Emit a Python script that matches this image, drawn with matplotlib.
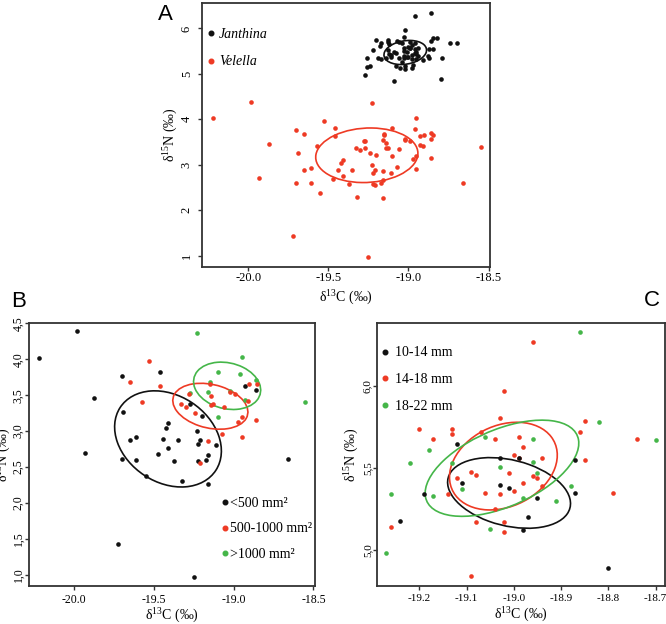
import numpy as np
import matplotlib
matplotlib.use("Agg")
import matplotlib.pyplot as plt
from matplotlib.patches import Ellipse
from matplotlib.lines import Line2D

plt.rcParams["font.family"] = ["Liberation Serif", "DejaVu Serif"]
plt.rcParams["mathtext.fontset"] = "custom"
plt.rcParams["mathtext.rm"] = "Liberation Serif"
plt.rcParams["mathtext.it"] = "Liberation Serif:italic"
plt.rcParams["axes.unicode_minus"] = False

BLACK = "#111111"
RED = "#EE3A24"
GREEN = "#45B649"

# Velella, split by size class (panel B); all together they are the red cloud in A
vel_small_x = [-20.22, -19.98, -19.87, -19.93, -19.70, -19.69, -19.70, -19.65, -19.61, -19.61,
               -19.55, -19.46, -19.41, -19.42, -19.44, -19.47, -19.41, -19.37, -19.35, -19.32,
               -19.27, -19.20, -19.23, -19.21, -19.22, -19.22, -19.16, -19.17, -19.16, -19.11,
               -18.93, -18.86, -18.66, -19.72, -19.25]
vel_small_y = [4.02, 4.39, 3.46, 2.70, 3.77, 3.26, 2.61, 2.88, 2.92, 2.59,
               2.37, 3.82, 3.11, 3.04, 2.89, 2.68, 2.76, 2.58, 2.88, 2.30,
               3.37, 3.21, 3.00, 2.88, 2.82, 2.58, 2.67, 2.60, 2.26, 2.81,
               3.63, 3.57, 2.61, 1.43, 0.97]
vel_mid_x = [-19.53, -19.65, -19.57, -19.46, -19.33, -19.30, -19.28, -19.24, -19.16, -19.21,
             -19.15, -19.14, -19.13, -19.14, -19.06, -19.07, -19.02, -18.99, -18.97, -18.95,
             -18.95, -18.90, -18.85, -18.91, -18.86]
vel_mid_y = [3.97, 3.68, 3.41, 3.63, 3.37, 3.33, 3.52, 3.25, 2.86, 2.56,
             3.66, 3.49, 3.38, 3.36, 3.34, 2.96, 3.54, 3.52, 3.13, 3.20,
             2.91, 3.66, 3.65, 3.42, 3.16]
vel_large_x = [-19.23, -18.95, -19.10, -18.96, -18.86, -19.16, -19.27, -19.10, -18.93, -18.55,
               -19.15, -19.02]
vel_large_y = [4.37, 4.03, 3.82, 3.79, 3.71, 3.55, 3.53, 3.19, 3.43, 3.40,
               3.68, 3.56]

# Janthina, split by size class (panel C); all together they are the black cloud in A
jan_small_x = [-19.12, -19.11, -19.19, -19.24, -19.03, -18.99, -19.03, -19.01, -18.87, -18.87,
               -18.95, -18.97, -18.98, -18.80]
jan_small_y = [5.65, 5.41, 5.34, 5.18, 5.56, 5.56, 5.40, 5.38, 5.55, 5.35,
               5.32, 5.20, 5.12, 4.89]
jan_mid_x = [-18.96, -19.02, -19.03, -19.20, -19.13, -19.13, -19.17, -19.07, -19.04, -18.99,
             -18.98, -18.86, -18.85, -18.85, -18.74, -19.00, -18.99, -18.94, -19.01, -19.09,
             -19.08, -19.12, -18.98, -18.96, -18.95, -18.94, -19.00, -19.06, -19.03, -19.14,
             -19.04, -19.08, -19.02, -19.02, -19.26, -19.09, -18.79]
jan_mid_y = [6.27, 5.97, 5.81, 5.74, 5.74, 5.71, 5.68, 5.72, 5.68, 5.69,
             5.63, 5.72, 5.79, 5.55, 5.68, 5.58, 5.56, 5.56, 5.47, 5.48,
             5.46, 5.44, 5.41, 5.45, 5.44, 5.39, 5.36, 5.35, 5.34, 5.34,
             5.25, 5.17, 5.17, 5.11, 5.14, 4.84, 5.35]
jan_large_x = [-18.86, -18.82, -18.70, -19.06, -19.18, -19.22, -19.13, -18.96, -18.96, -19.03,
               -18.95, -19.11, -18.88, -19.17, -19.26, -18.98, -18.91, -19.05, -19.27]
jan_large_y = [6.33, 5.78, 5.67, 5.69, 5.61, 5.53, 5.53, 5.68, 5.54, 5.51,
               5.47, 5.37, 5.39, 5.33, 5.34, 5.32, 5.30, 5.13, 4.98]

# standard ellipses: centre x, centre y, sd x, sd y, correlation
ell_a = {"Janthina": (-19.02, 5.47, 0.133, 0.265, 0.20),
         "Velella": (-19.26, 3.21, 0.319, 0.600, 0.07)}
ell_b = {"small": (-19.41, 2.89, 0.334, 0.670, -0.25),
         "mid": (-19.145, 3.345, 0.235, 0.320, -0.25),
         "large": (-19.04, 3.63, 0.210, 0.330, -0.18)}
ell_c = {"small": (-19.01, 5.349, 0.130, 0.216, -0.30),
         "mid": (-19.022, 5.513, 0.114, 0.268, 0.25),
         "large": (-19.025, 5.500, 0.1625, 0.294, 0.52)}

labels_a = ["Janthina", "Velella"]
labels_b = ["<500 mm²", "500-1000 mm²", ">1000 mm²"]
labels_c = ["10-14 mm", "14-18 mm", "18-22 mm"]

xticks_ab = [-20.0, -19.5, -19.0, -18.5]
yticks_a = [1, 2, 3, 4, 5, 6]
yticks_b = [1.0, 1.5, 2.0, 2.5, 3.0, 3.5, 4.0, 4.5]
xticks_c = [-19.2, -19.1, -19.0, -18.9, -18.8, -18.7]
yticks_c = [5.0, 5.5, 6.0]

XLAB = r"$\mathrm{\delta}^{13}$C (‰)"
YLAB = r"$\mathrm{\delta}^{15}$N (‰)"


def draw_ellipse(ax, params, color):
    cx, cy, sx, sy, rho = params
    cov = np.array([[sx ** 2, rho * sx * sy], [rho * sx * sy, sy ** 2]])
    vals, vecs = np.linalg.eigh(cov)
    angle = np.degrees(np.arctan2(vecs[1, 1], vecs[0, 1]))
    ax.add_patch(Ellipse((cx, cy), 2 * np.sqrt(vals[1]), 2 * np.sqrt(vals[0]),
                         angle=angle, fill=False, edgecolor=color, lw=1.2))


def style_axes(ax, xticks, xlabels, yticks, ylabels, xpad, ypad, size=9):
    for sp in ax.spines.values():
        sp.set_linewidth(1.3)
        sp.set_color("#333333")
    ax.set_xticks(xticks)
    ax.set_xticklabels(xlabels, fontsize=size)
    ax.set_yticks(yticks)
    ax.set_yticklabels(ylabels, fontsize=size, rotation=90, va="center")
    ax.tick_params(axis="both", direction="out", length=3, width=1, color="#333333")
    ax.tick_params(axis="x", pad=xpad)
    ax.tick_params(axis="y", pad=ypad)


def dots(ax, x, y, color):
    ax.scatter(x, y, s=11, color=color, linewidths=0, zorder=3)


def handles(colors):
    return [Line2D([], [], marker="o", linestyle="none", color=c, markersize=3.3) for c in colors]


fig = plt.figure(figsize=(6.66, 6.24), dpi=100)

# ---- panel A
ax_a = fig.add_axes([0.303, 0.5726, 0.433, 0.422])
jan_x = jan_small_x + jan_mid_x + jan_large_x
jan_y = jan_small_y + jan_mid_y + jan_large_y
vel_x = vel_small_x + vel_mid_x + vel_large_x
vel_y = vel_small_y + vel_mid_y + vel_large_y
dots(ax_a, jan_x, jan_y, BLACK)
dots(ax_a, vel_x, vel_y, RED)
draw_ellipse(ax_a, ell_a["Janthina"], BLACK)
draw_ellipse(ax_a, ell_a["Velella"], RED)
ax_a.set_xlim(-20.29, -18.49)
ax_a.set_ylim(0.76, 6.55)
style_axes(ax_a, xticks_ab, [f"{v:.1f}" for v in xticks_ab],
           yticks_a, [str(v) for v in yticks_a], 0.5, 3.5)
ax_a.set_xlabel(XLAB, fontsize=10, va="center")
ax_a.xaxis.set_label_coords(0.5, -0.118)
ax_a.set_ylabel(YLAB, fontsize=10, va="center")
ax_a.yaxis.set_label_coords(-0.107, 0.5)
ax_a.legend(handles([BLACK, RED]), labels_a, loc="upper left",
            bbox_to_anchor=(0.016, 0.907), frameon=False, borderpad=0, borderaxespad=0,
            handlelength=0.6, handletextpad=0.3, labelspacing=1.05,
            prop={"family": "Liberation Serif", "style": "italic", "size": 10})

# ---- panel B
ax_b = fig.add_axes([0.0435, 0.0609, 0.4295, 0.422])
dots(ax_b, vel_large_x, vel_large_y, GREEN)
dots(ax_b, vel_small_x, vel_small_y, BLACK)
dots(ax_b, vel_mid_x, vel_mid_y, RED)
draw_ellipse(ax_b, ell_b["small"], BLACK)
draw_ellipse(ax_b, ell_b["mid"], RED)
draw_ellipse(ax_b, ell_b["large"], GREEN)
ax_b.set_xlim(-20.28, -18.49)
ax_b.set_ylim(0.84, 4.51)
style_axes(ax_b, xticks_ab, [f"{v:.1f}" for v in xticks_ab],
           yticks_b, [f"{v:.1f}".replace(".", ",") for v in yticks_b], 2.7, 0.2, size=8.5)
ax_b.set_xlabel(XLAB, fontsize=10, va="center")
ax_b.xaxis.set_label_coords(0.5, -0.115)
ax_b.set_ylabel(YLAB, fontsize=10, va="center")
ax_b.yaxis.set_label_coords(-0.088, 0.5)
ax_b.legend(handles([BLACK, RED, GREEN]), labels_b, loc="lower right",
            bbox_to_anchor=(0.99, 0.095), frameon=False, borderpad=0, borderaxespad=0,
            handlelength=0.6, handletextpad=0.05, labelspacing=0.9,
            prop={"family": "Liberation Serif", "size": 10})

# ---- panel C
ax_c = fig.add_axes([0.5656, 0.0609, 0.433, 0.422])
dots(ax_c, jan_large_x, jan_large_y, GREEN)
dots(ax_c, jan_mid_x, jan_mid_y, RED)
dots(ax_c, jan_small_x, jan_small_y, BLACK)
draw_ellipse(ax_c, ell_c["small"], BLACK)
draw_ellipse(ax_c, ell_c["mid"], RED)
draw_ellipse(ax_c, ell_c["large"], GREEN)
ax_c.set_xlim(-19.29, -18.68)
ax_c.set_ylim(4.78, 6.39)
style_axes(ax_c, xticks_c, [f"{v:.1f}" for v in xticks_c],
           yticks_c, [f"{v:.1f}".replace(".", ",") for v in yticks_c], 2.7, 0.2, size=8)
ax_c.set_xlabel(XLAB, fontsize=10, va="center")
ax_c.xaxis.set_label_coords(0.5, -0.108)
ax_c.set_ylabel(YLAB, fontsize=10, va="center")
ax_c.yaxis.set_label_coords(-0.086, 0.5)
ax_c.legend(handles([BLACK, RED, GREEN]), labels_c, loc="upper left",
            bbox_to_anchor=(0.014, 0.91), frameon=False, borderpad=0, borderaxespad=0,
            handlelength=0.6, handletextpad=0.42, labelspacing=1.0,
            prop={"family": "Liberation Serif", "size": 10})

# panel letters
for letter, (fx, fy) in zip("ABC", [(0.2477, 0.976), (0.0275, 0.5165), (0.9785, 0.519)]):
    fig.text(fx, fy, letter, fontsize=16, family="Liberation Sans", ha="center", va="center")

fig.savefig("out.png", dpi=100)
